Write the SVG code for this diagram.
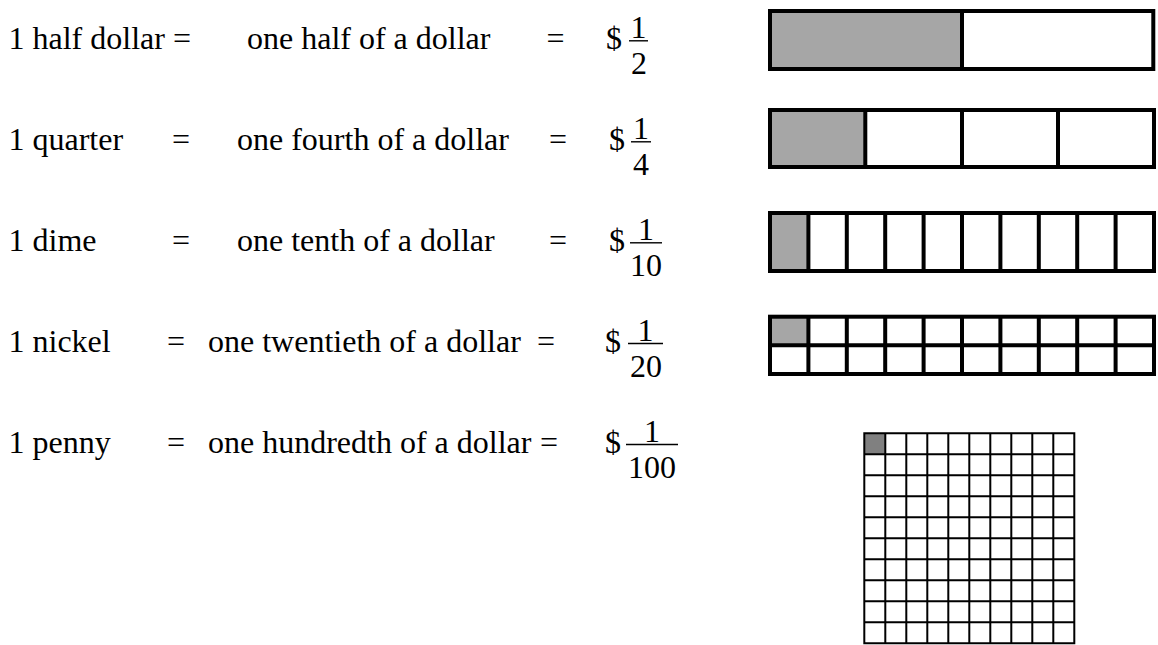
<svg xmlns="http://www.w3.org/2000/svg" width="1158" height="645" viewBox="0 0 1158 645">
<style>
text{font-family:"Liberation Serif","Times New Roman",serif;font-size:32px;fill:#000}
.m{text-anchor:middle}
.fb{stroke:#000;stroke-width:1.4}
.bar{fill:none;stroke:#000;stroke-width:4}
.bl{stroke:#000;stroke-width:4}
.g{stroke:#000;stroke-width:2}
.sh{fill:#a6a6a6}
.dk{fill:#808080}
</style>
<rect width="1158" height="645" fill="#fff"/>
<g id="row-half">
<text x="8.5" y="49">1 half dollar =</text>
<text x="247" y="49">one half of a dollar</text>
<text x="546.5" y="49">=</text>
<text x="606" y="49">$</text>
<text class="m" x="638.5" y="38">1</text>
<line class="fb" x1="629" y1="40.8" x2="648" y2="40.8"/>
<text class="m" x="639" y="74">2</text>
</g>
<g id="row-quarter">
<text x="8.5" y="150">1 quarter</text>
<text x="172" y="150">=</text>
<text x="237" y="150">one fourth of a dollar</text>
<text x="549" y="150">=</text>
<text x="609" y="150">$</text>
<text class="m" x="641" y="139">1</text>
<line class="fb" x1="631" y1="141.8" x2="651" y2="141.8"/>
<text class="m" x="641" y="175">4</text>
</g>
<g id="row-dime">
<text x="8.5" y="251">1 dime</text>
<text x="172" y="251">=</text>
<text x="237" y="251">one tenth of a dollar</text>
<text x="549" y="251">=</text>
<text x="609" y="251">$</text>
<text class="m" x="646" y="240">1</text>
<line class="fb" x1="630" y1="242.8" x2="662" y2="242.8"/>
<text class="m" x="646" y="276">10</text>
</g>
<g id="row-nickel">
<text x="8.5" y="352">1 nickel</text>
<text x="167" y="352">=</text>
<text x="208" y="352">one twentieth of a dollar</text>
<text x="537" y="352">=</text>
<text x="605" y="352">$</text>
<text class="m" x="645.5" y="341">1</text>
<line class="fb" x1="628" y1="343.5" x2="663" y2="343.5"/>
<text class="m" x="646" y="377">20</text>
</g>
<g id="row-penny">
<text x="8.5" y="453">1 penny</text>
<text x="167" y="453">=</text>
<text x="208" y="453">one hundredth of a dollar</text>
<text x="540" y="453">=</text>
<text x="605" y="453">$</text>
<text class="m" x="652" y="442">1</text>
<line class="fb" x1="626" y1="444.5" x2="678" y2="444.5"/>
<text class="m" x="652" y="478">100</text>
</g>
<g id="bar-half">
<rect class="sh" x="770" y="11" width="192" height="58"/>
<rect class="bar" x="770" y="11" width="383.3" height="58"/>
<line class="bl" x1="962" y1="11" x2="962" y2="69"/>
</g>
<g id="bar-quarter">
<rect class="sh" x="770" y="110" width="95.3" height="57"/>
<rect class="bar" x="770" y="110" width="384" height="57"/>
<line class="bl" x1="865.3" y1="110" x2="865.3" y2="167"/>
<line class="bl" x1="962" y1="110" x2="962" y2="167"/>
<line class="bl" x1="1058" y1="110" x2="1058" y2="167"/>
</g>
<g id="bar-tenth">
<rect class="sh" x="770" y="213" width="38.4" height="58"/>
<rect class="bar" x="770" y="213" width="384" height="58"/>
<path class="bl" d="M808.4 213V271M846.8 213V271M885.2 213V271M923.6 213V271M962 213V271M1000.4 213V271M1038.8 213V271M1077.2 213V271M1115.6 213V271"/>
</g>
<g id="bar-twentieth">
<rect class="sh" x="770" y="316.7" width="38.4" height="28.6"/>
<rect class="bar" x="770" y="316.7" width="384" height="57.3"/>
<line class="bl" x1="770" y1="345.3" x2="1154" y2="345.3"/>
<path class="bl" d="M808.4 316.7V374M846.8 316.7V374M885.2 316.7V374M923.6 316.7V374M962 316.7V374M1000.4 316.7V374M1038.8 316.7V374M1077.2 316.7V374M1115.6 316.7V374"/>
</g>
<g id="grid-hundredth">
<rect class="dk" x="864.3" y="433.3" width="21" height="21"/>
<path class="g" d="M864.3 433.3V643.3M885.3 433.3V643.3M906.3 433.3V643.3M927.3 433.3V643.3M948.3 433.3V643.3M969.3 433.3V643.3M990.3 433.3V643.3M1011.3 433.3V643.3M1032.3 433.3V643.3M1053.3 433.3V643.3M1074.3 433.3V643.3M863.3 433.3H1075.3M863.3 454.3H1075.3M863.3 475.3H1075.3M863.3 496.3H1075.3M863.3 517.3H1075.3M863.3 538.3H1075.3M863.3 559.3H1075.3M863.3 580.3H1075.3M863.3 601.3H1075.3M863.3 622.3H1075.3M863.3 643.3H1075.3"/>
</g>
</svg>
